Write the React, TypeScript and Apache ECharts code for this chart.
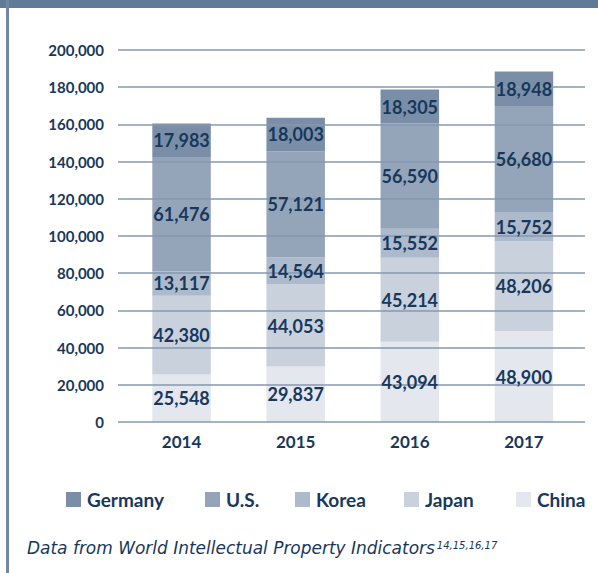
import React, { useEffect, useRef } from "react";
import * as echarts from "echarts";

const years = ["2014", "2015", "2016", "2017"];
const china = [25548, 29837, 43094, 48900];
const japan = [42380, 44053, 45214, 48206];
const korea = [13117, 14564, 15552, 15752];
const us = [61476, 57121, 56590, 56680];
const germany = [17983, 18003, 18305, 18948];

const seriesNames = ["China", "Japan", "Korea", "U.S.", "Germany"];
const seriesData = [china, japan, korea, us, germany];
const seriesColors = ["#e4e7ee", "#c9d1dc", "#adbacb", "#94a5b9", "#7a8fa7"];

const legendOrder = ["Germany", "U.S.", "Korea", "Japan", "China"];
const legendLeft = [66, 205, 295, 404, 516];

const footerText = "Data from World Intellectual Property Indicators";
const footerSup = "14,15,16,17";

const NAVY = "#17385c";
const FONT = "Lato";
const FOOT_FONT = "DejaVu Sans";

const fmt = (v: number) => v.toLocaleString("en-US");

export default function App() {
  const ref = useRef<HTMLDivElement>(null);
  useEffect(() => {
    document.body.style.margin = "0";
    const chart = echarts.init(ref.current!, null, { renderer: "svg" });
    const gridTop = 50;
    const gridHeight = 372;

    // fit footer font size so the line spans the same width as in the source
    const targetW = 408;
    let footSize = 16;
    let footW = targetW;
    try {
      const c = document.createElement("canvas").getContext("2d");
      if (c) {
        c.font = `italic 16px "${FOOT_FONT}"`;
        const w16 = c.measureText(footerText).width;
        if (w16 > 0) {
          footSize = Math.max(14, Math.min(18, (16 * targetW) / w16));
          c.font = `italic ${footSize}px "${FOOT_FONT}"`;
          footW = c.measureText(footerText).width;
        }
      }
    } catch (e) {}

    const barGrid = { left: 124.5, right: 17, top: gridTop, height: gridHeight };
    chart.setOption({
      animation: false,
      backgroundColor: "#ffffff",
      grid: [
        { left: 118, right: 13, top: gridTop, height: gridHeight },
        barGrid,
        barGrid,
      ],
      xAxis: [
        { type: "category", gridIndex: 0, data: years, show: false },
        {
          type: "category",
          gridIndex: 1,
          data: years,
          axisLine: { show: false },
          axisTick: { show: false },
          axisLabel: {
            color: NAVY,
            fontFamily: FONT,
            fontWeight: "bold",
            fontSize: 17,
            margin: 11,
          },
        },
        { type: "category", gridIndex: 2, data: years, show: false },
      ],
      yAxis: [
        {
          type: "value",
          gridIndex: 0,
          min: 0,
          max: 200000,
          interval: 20000,
          z: 10,
          axisLine: { show: false },
          axisTick: { show: false },
          splitLine: { show: true, lineStyle: { color: "#8499b0", width: 1.5 } },
          axisLabel: {
            color: NAVY,
            fontFamily: FONT,
            fontWeight: "bold",
            fontSize: 15,
            margin: 14,
            formatter: (v: number) => fmt(v),
          },
        },
        {
          type: "value",
          gridIndex: 1,
          min: 0,
          max: 200000,
          interval: 20000,
          show: false,
          splitLine: { show: false },
        },
        {
          type: "value",
          gridIndex: 2,
          min: 0,
          max: 200000,
          interval: 20000,
          show: false,
          splitLine: { show: false },
        },
      ],
      legend: legendOrder.map((name, i) => ({
        data: [name],
        left: legendLeft[i],
        top: 490,
        itemWidth: 15,
        itemHeight: 15,
        icon: "rect",
        itemGap: 0,
        padding: 0,
        selectedMode: false,
        textStyle: {
          color: NAVY,
          fontFamily: FONT,
          fontWeight: "bold",
          fontSize: 19,
          padding: [0, 0, 0, 1],
        },
      })),
      series: [
        ...seriesNames.map((name, i) => ({
          name,
          type: "bar",
          stack: "total",
          xAxisIndex: 1,
          yAxisIndex: 1,
          barWidth: 58.5,
          z: 2,
          itemStyle: { color: seriesColors[i] },
          label: { show: false },
          data: seriesData[i],
        })),
        ...seriesNames.map((name, i) => ({
          name: "label-" + name,
          type: "bar",
          stack: "labels",
          xAxisIndex: 2,
          yAxisIndex: 2,
          barWidth: 58.5,
          z: 20,
          silent: true,
          itemStyle: { color: "rgba(0,0,0,0)" },
          label: {
            show: true,
            position: "inside",
            color: NAVY,
            fontFamily: FONT,
            fontWeight: "bold",
            fontSize: 18,
            formatter: (p: any) => fmt(p.value),
          },
          data: seriesData[i],
        })),
      ],
      graphic: [
        {
          type: "rect",
          left: 0,
          top: 0,
          shape: { x: 0, y: 0, width: 598, height: 8 },
          style: { fill: "#5f7b97" },
        },
        {
          type: "rect",
          left: 6,
          top: 0,
          shape: { x: 0, y: 0, width: 3, height: 573 },
          style: { fill: "#6f87a1" },
        },
        {
          type: "text",
          left: 27,
          top: 539,
          style: {
            text: footerText,
            fontFamily: FOOT_FONT,
            fontStyle: "italic",
            fontSize: footSize,
            fill: NAVY,
          },
        },
        {
          type: "text",
          left: 27 + footW + 2,
          top: 540,
          style: {
            text: footerSup,
            fontFamily: FOOT_FONT,
            fontStyle: "italic",
            fontSize: 10,
            fill: NAVY,
          },
        },
      ],
    });
    return () => chart.dispose();
  }, []);
  return <div ref={ref} style={{ width: 598, height: 573 }} />;
}
